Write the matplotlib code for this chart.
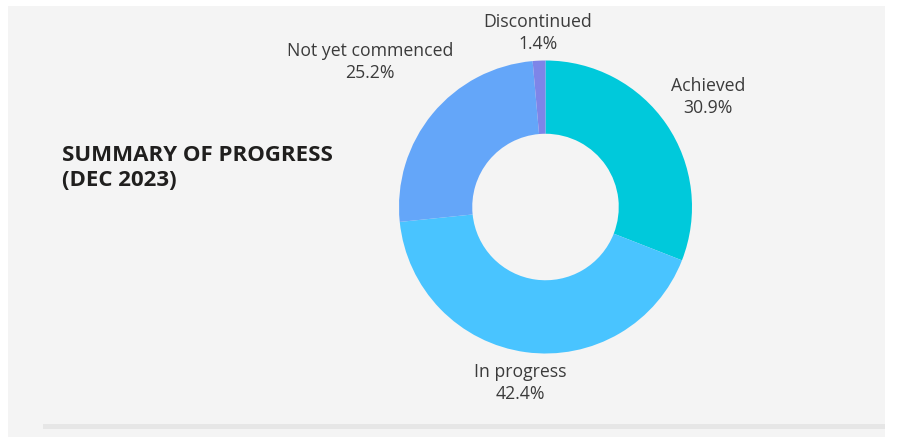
import matplotlib
matplotlib.use("Agg")
import matplotlib.pyplot as plt
from matplotlib.patches import Rectangle

# ---- data ----
categories = ["Achieved", "In progress", "Not yet commenced", "Discontinued"]
values = [30.9, 42.4, 25.2, 1.4]
pct_labels = ["30.9%", "42.4%", "25.2%", "1.4%"]
colors = ["#00C9DB", "#49C4FF", "#64A6F9", "#7E85E8"]

title_text = "SUMMARY OF PROGRESS\n(DEC 2023)"

# ---- layout (pixel coords, y from top) ----
W, H = 908, 439
label_pos = [(708, 97), (520, 383), (370, 62), (538, 33)]
center_px = (545.5, 208)
radius_px = 146.5

fig = plt.figure(figsize=(W / 100, H / 100), dpi=100, facecolor="white")
ax = fig.add_axes([0, 0, 1, 1])
ax.set_axis_off()

# gray panel
ax.add_patch(Rectangle((8, H - 438), 877, 431, facecolor="#F4F4F4", edgecolor="none", zorder=0))
# bottom strip
ax.add_patch(Rectangle((43, H - 430), 842, 5, facecolor="#E6E6E6", edgecolor="none", zorder=1))

ax.pie(values, colors=colors, startangle=90, counterclock=False,
       center=(center_px[0], H - center_px[1]), radius=radius_px,
       wedgeprops=dict(width=radius_px * 0.5, edgecolor="none", linewidth=0),
       frame=True)

ax.set_xlim(0, W)
ax.set_ylim(0, H)
ax.set_aspect("auto")
ax.set_axis_off()

label_font = ["Open Sans", "DejaVu Sans"]
for cat, pct, (x, y) in zip(categories, pct_labels, label_pos):
    ax.text(x, H - y, f"{cat}\n{pct}", ha="center", va="center",
            fontsize=12.7, color="#3B3B3B", family=label_font, linespacing=1.35)

ax.text(62, H - 168, title_text, ha="left", va="center", fontsize=16,
        fontweight="bold", color="#201F1E", family=label_font, linespacing=1.3)

fig.savefig("out.png", dpi=100, facecolor="white")
